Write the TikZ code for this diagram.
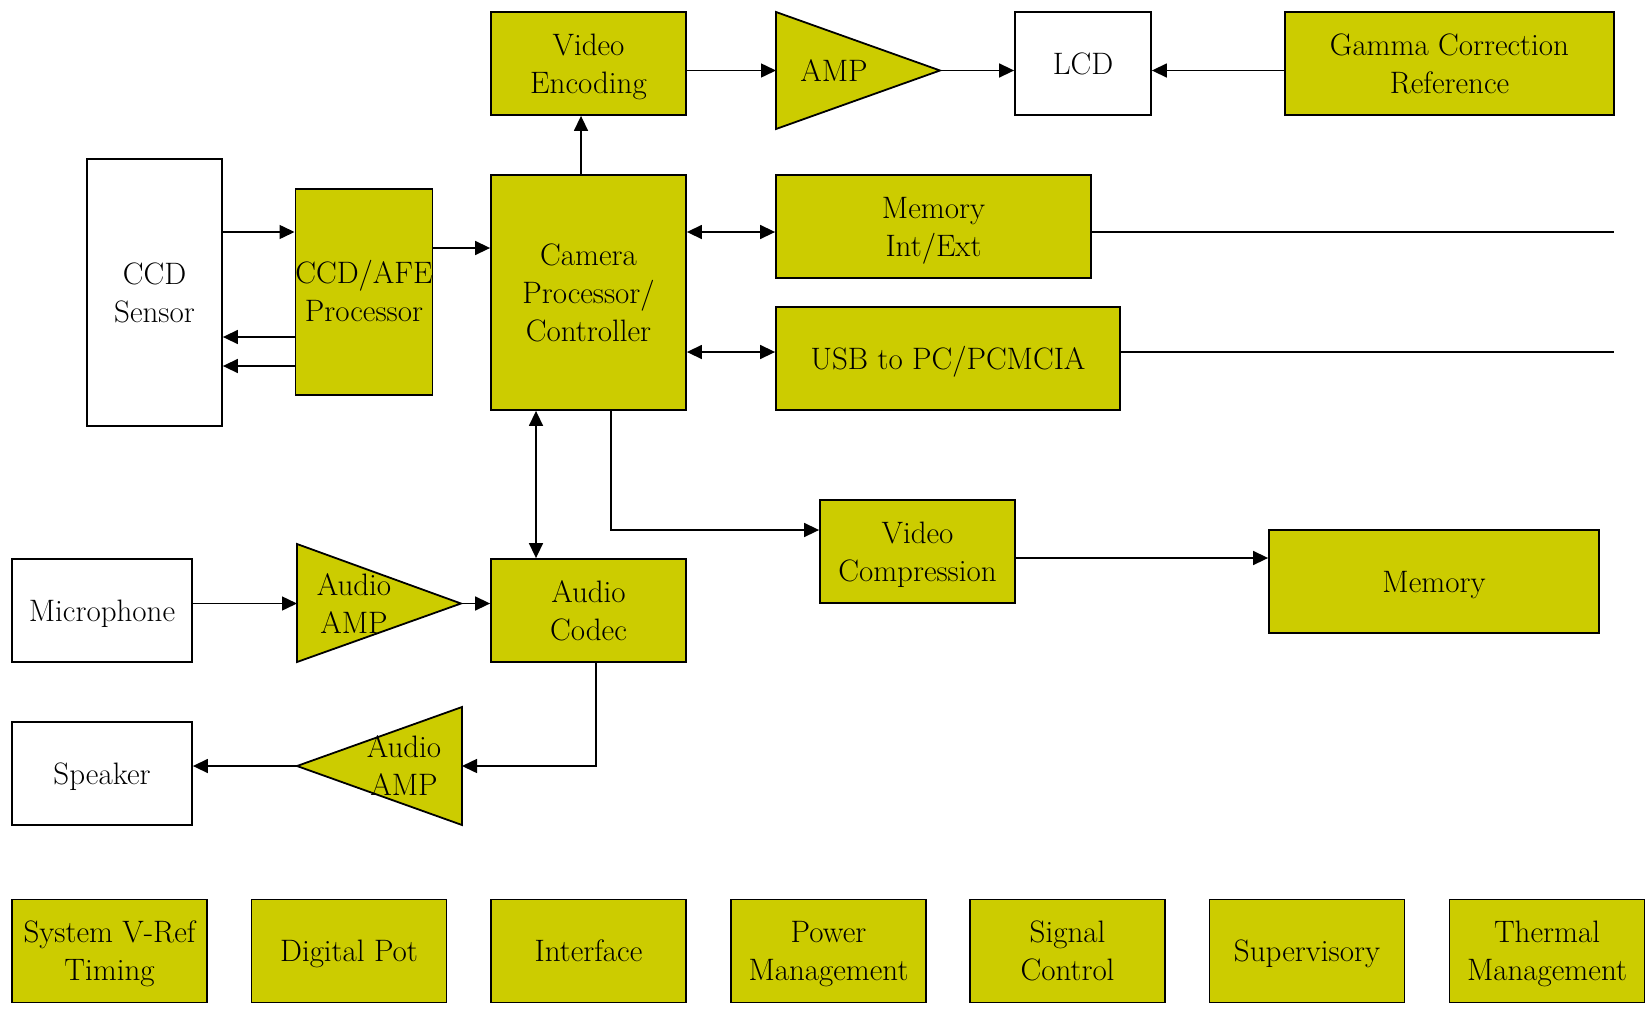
\documentclass[tikz,border=0pt]{standalone}
\usetikzlibrary{arrows.meta}
\definecolor{blockfill}{HTML}{CCCC00}
% one text line with a fixed-size strut, so every line box has the same height and depth
\newcommand\tl[1]{\rule[-0.22\baselineskip]{0pt}{\baselineskip}#1}
\begin{document}
\begin{tikzpicture}[x=1pt,y=-1pt,
  every node/.style={font=\fontsize{31}{38}\selectfont},
  blk/.style={draw=black, line width=1.8pt, fill=blockfill, inner sep=0pt, align=center},
  wblk/.style={blk, fill=white},
  tri/.style={draw=black, line width=1.8pt, fill=blockfill, line join=miter},
  lbl/.style={inner sep=0pt, align=center},
  wire/.style={line width=1.5pt},
  arr/.style={wire, -{Triangle[length=15pt,width=14pt]}},
  darr/.style={wire, {Triangle[length=15pt,width=14pt]}-{Triangle[length=15pt,width=14pt]}}]
\useasboundingbox (0,0) rectangle (1649,1012);

% top row
\node[blk, minimum width=195pt, minimum height=103pt] (venc) at (588.5,63.5) {\tl{Video}\\\tl{Encoding}};
\draw[tri] (776,12) -- (776,129) -- (940,70.5) -- cycle;
\coordinate (ampin) at (776,70.5);
\coordinate (ampout) at (940,70.5);
\node[lbl] (amp) at (834,70.5) {\tl{AMP}};
\node[wblk, minimum width=136pt, minimum height=103pt] (lcd) at (1083,63.5) {\tl{LCD}};
\node[blk, minimum width=329pt, minimum height=103pt] (gamma) at (1449.5,63.5) {\tl{Gamma Correction}\\\tl{Reference}};

% sensor chain and main processor
\node[wblk, minimum width=135pt, minimum height=267pt] (ccd) at (154.5,292.5) {\tl{CCD}\\\tl{Sensor}};
\node[blk, minimum width=134pt, minimum height=206pt] (afe) at (364,292) {\tl{CCD/AFE}\\\tl{Processor}};
\node[blk, minimum width=195pt, minimum height=235pt] (cam) at (588.5,292.5) {\tl{Camera}\\\tl{Processor/}\\\tl{Controller}};
\node[blk, minimum width=315pt, minimum height=103pt] (mem) at (933.5,226.5) {\tl{Memory}\\\tl{Int/Ext}};
\node[blk, minimum width=344pt, minimum height=103pt] (usb) at (948,358.5) {\tl{USB to PC/PCMCIA}};
\node[blk, minimum width=195pt, minimum height=103pt] (vcomp) at (917.5,551.5) {\tl{Video}\\\tl{Compression}};
\node[blk, minimum width=330pt, minimum height=103pt] (store) at (1434,581.5) {\tl{Memory}};

% audio path
\node[wblk, minimum width=180pt, minimum height=103pt] (mic) at (102,610.5) {\tl{Microphone}};
\draw[tri] (297,544) -- (297,662) -- (461,603.5) -- cycle;
\coordinate (ainin) at (297,603.5);
\coordinate (ainout) at (461,603.5);
\node[lbl] (ainlbl) at (354,604) {\tl{Audio}\\\tl{AMP}};
\node[blk, minimum width=195pt, minimum height=103pt] (codec) at (588.5,610.5) {\tl{Audio}\\\tl{Codec}};
\node[wblk, minimum width=180pt, minimum height=103pt] (spk) at (102,773.5) {\tl{Speaker}};
\draw[tri] (462,707) -- (462,825) -- (297,766) -- cycle;
\coordinate (aoutin) at (462,766);
\coordinate (aoutout) at (297,766);
\node[lbl] (aoutlbl) at (404,766) {\tl{Audio}\\\tl{AMP}};

% support blocks
\foreach \name/\cx/\txt in {sys/109.5/{\tl{System V-Ref}\\\tl{Timing}}, pot/349/{\tl{Digital Pot}},
    intf/588.5/{\tl{Interface}}, pwr/828.5/{\tl{Power}\\\tl{Management}}, sig/1067.5/{\tl{Signal}\\\tl{Control}},
    sup/1307/{\tl{Supervisory}}, therm/1547/{\tl{Thermal}\\\tl{Management}}}
  \node[blk, minimum width=195pt, minimum height=103pt] (\name) at (\cx,951) {\txt};

% reference levels and columns for connectors
\coordinate (ya) at (0,232);
\coordinate (yb) at (0,248);
\coordinate (yc) at (0,337);
\coordinate (yd) at (0,366);
\coordinate (ye) at (0,352);
\coordinate (yf) at (0,530);
\coordinate (yg) at (0,558);
\coordinate (xa) at (581,0);
\coordinate (xb) at (536,0);
\coordinate (xc) at (611,0);
\coordinate (xd) at (596,0);
\coordinate (memend) at (1614,232);
\coordinate (usbend) at (1614,352);

% connectors
\draw[arr] (venc.east |- ampin) -- (ampin);
\draw[arr] (ampout) -- (lcd.west |- ampout);
\draw[arr] (gamma.west |- ampout) -- (lcd.east |- ampout);
\draw[arr] (xa |- cam.north) -- (xa |- venc.south);
\draw[arr] (ccd.east |- ya) -- (afe.west |- ya);
\draw[arr] (afe.east |- yb) -- (cam.west |- yb);
\draw[arr] (afe.west |- yc) -- (ccd.east |- yc);
\draw[arr] (afe.west |- yd) -- (ccd.east |- yd);
\draw[darr] (cam.east |- ya) -- (mem.west |- ya);
\draw[wire] (mem.east |- ya) -- (memend);
\draw[darr] (cam.east |- ye) -- (usb.west |- ye);
\draw[wire] (usb.east |- ye) -- (usbend);
\draw[darr] (xb |- cam.south) -- (xb |- codec.north);
\draw[arr] (xc |- cam.south) -- (xc |- yf) -- (vcomp.west |- yf);
\draw[arr] (vcomp.east |- yg) -- (store.west |- yg);
\draw[arr] (mic.east |- ainin) -- (ainin);
\draw[arr] (ainout) -- (codec.west |- ainout);
\draw[arr] (xd |- codec.south) -- (xd |- aoutin) -- (aoutin);
\draw[arr] (aoutout) -- (spk.east |- aoutout);
\end{tikzpicture}
\end{document}
